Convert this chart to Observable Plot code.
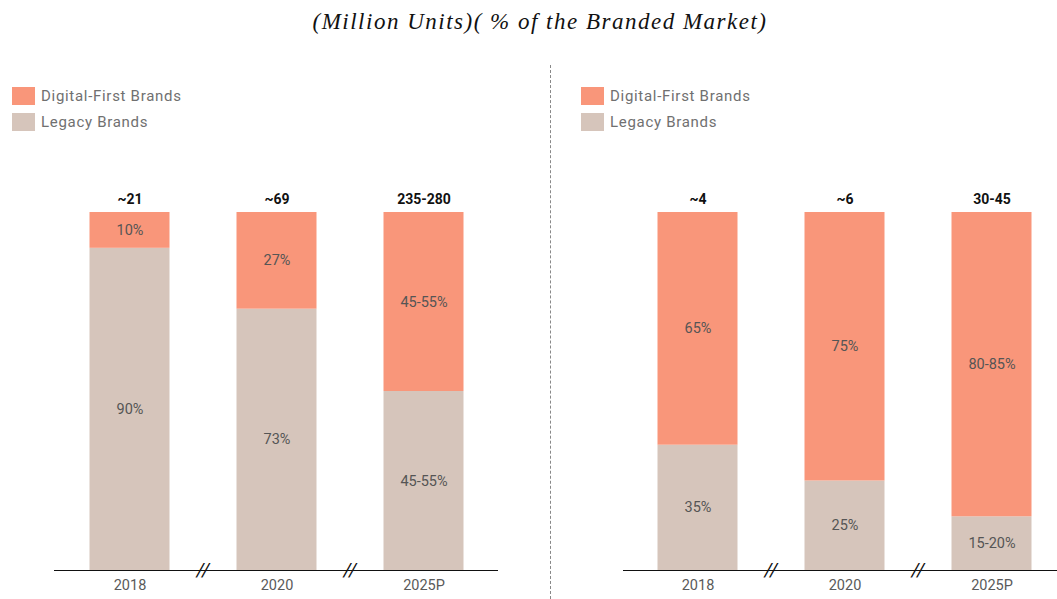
<!DOCTYPE html>
<html>
<head>
<meta charset="utf-8">
<script src="https://cdn.jsdelivr.net/npm/d3@7"></script>
<script src="https://cdn.jsdelivr.net/npm/@observablehq/plot@0.6"></script>
<style>
  html, body { margin: 0; padding: 0; background: #fff; overflow: hidden; }
  #root { position: relative; width: 1057px; height: 599px; font-family: Roboto, "Liberation Sans", sans-serif; }
  #title { position: absolute; top: 9px; left: 0; width: 1080px; text-align: center;
           font-family: "Liberation Serif", "Times New Roman", serif; font-style: italic; font-size: 23px;
           letter-spacing: 1.5px; color: #111; }
  .legend { position: absolute; font-size: 15px; letter-spacing: 0.7px; color: #707070; }
  .legend .row { display: flex; align-items: center; height: 26px; }
  .legend .sw { width: 23px; height: 18px; margin-right: 6px; }
  #divider { position: absolute; left: 550px; top: 65px; height: 534px; border-left: 1.2px dashed #888; }
  .panel { position: absolute; top: 140px; }
</style>
</head>
<body>
<div id="root">
  <div id="title">(Million Units)( % of the Branded Market)</div>
  <div id="divider"></div>
  <div class="legend" style="left:12px; top:83px;" id="legL"></div>
  <div class="legend" style="left:581px; top:83px;" id="legR"></div>
  <div class="panel" id="left" style="left:0px;"></div>
  <div class="panel" id="right" style="left:551px;"></div>
</div>
<script>
const years = ["2018", "2020", "2025P"];
const seriesNames = ["Legacy Brands", "Digital-First Brands"];
const seriesColors = ["#D6C5BB", "#F9967A"];

// Left panel: unit sales (million units), share split
const leftTotals = ["~21", "~69", "235-280"];
const leftLegacy = [90, 73, 50];
const leftDigital = [10, 27, 50];
const leftLegacyLabels = ["90%", "73%", "45-55%"];
const leftDigitalLabels = ["10%", "27%", "45-55%"];

// Right panel: % of the branded market
const rightTotals = ["~4", "~6", "30-45"];
const rightLegacy = [35, 25, 15];
const rightDigital = [65, 75, 85];
const rightLegacyLabels = ["35%", "25%", "15-20%"];
const rightDigitalLabels = ["65%", "75%", "80-85%"];

function legend(el) {
  const order = [1, 0];
  el.innerHTML = order.map(i =>
    `<div class="row"><div class="sw" style="background:${seriesColors[i]}"></div><span>${seriesNames[i]}</span></div>`
  ).join("");
}
legend(document.getElementById("legL"));
legend(document.getElementById("legR"));

function rows(legacy, digital, legacyLabels, digitalLabels) {
  const out = [];
  years.forEach((y, i) => out.push({year: y, series: seriesNames[0], value: legacy[i], label: legacyLabels[i]}));
  years.forEach((y, i) => out.push({year: y, series: seriesNames[1], value: digital[i], label: digitalLabels[i]}));
  return out;
}

function panel({legacy, digital, legacyLabels, digitalLabels, totals, width, xRange, marginLeft, marginRight}) {
  const data = rows(legacy, digital, legacyLabels, digitalLabels);
  const tops = years.map((y, i) => ({year: y, total: 100, label: totals[i]}));
  const breaks = years.slice(0, 2).map(y => ({year: y}));
  return Plot.plot({
    width, height: 459,
    marginLeft, marginRight, marginTop: 0, marginBottom: 0,
    x: {domain: years, range: xRange, paddingInner: 0.446, paddingOuter: 0.446, axis: null},
    y: {domain: [0, 100], range: [430, 72], axis: null},
    color: {domain: seriesNames, range: seriesColors},
    style: {fontFamily: "Roboto, 'Liberation Sans', sans-serif", overflow: "visible"},
    marks: [
      Plot.barY(data, Plot.stackY({x: "year", y: "value", fill: "series", insetLeft: 0.5, insetRight: 0.5})),
      Plot.text(data, Plot.stackY({x: "year", y: "value", text: "label", fill: "#555", fontSize: 14.5, letterSpacing: "0.8px"})),
      Plot.text(tops, {x: "year", y: "total", text: "label", dy: -13, fontSize: 14, fontWeight: "bold", fill: "#111", letterSpacing: "-0.4px"}),
      Plot.ruleY([0], {stroke: "#111", strokeWidth: 1.2}),
      Plot.text(years, {x: d => d, y: 0, text: d => d, dy: 15, fill: "#5a5a5a", fontSize: 14.5, letterSpacing: "1px"}),
      Plot.text(breaks, {x: "year", y: 0, text: () => "//", dx: 73, dy: -1, fontSize: 19, fontStyle: "italic", fill: "#111", letterSpacing: "-2px"})
    ]
  });
}

document.getElementById("left").append(panel({
  legacy: leftLegacy, digital: leftDigital,
  legacyLabels: leftLegacyLabels, digitalLabels: leftDigitalLabels,
  totals: leftTotals, width: 551, xRange: [21.5, 531.5], marginLeft: 54, marginRight: 53
}));
document.getElementById("right").append(panel({
  legacy: rightLegacy, digital: rightDigital,
  legacyLabels: rightLegacyLabels, digitalLabels: rightDigitalLabels,
  totals: rightTotals, width: 506, xRange: [39, 549], marginLeft: 72, marginRight: 0
}));
</script>
</body>
</html>
